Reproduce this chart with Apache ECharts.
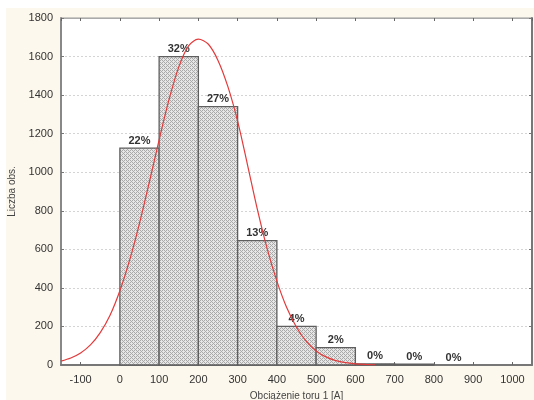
<!DOCTYPE html>
<html>
<head>
<meta charset="utf-8">
<script src="https://cdn.jsdelivr.net/npm/echarts@6/dist/echarts.min.js"></script>
<style>
html,body{margin:0;padding:0;background:#fff;}
#bg{position:absolute;left:6px;top:8px;width:528px;height:392px;background:#fcf8ed;}
#chart{position:absolute;left:0;top:0;width:534px;height:400px;}
</style>
</head>
<body>
<div id="bg"></div>
<div id="chart"></div>
<script>
// Histogram bins (lower edges), width 100 A
const binStarts = [0, 100, 200, 300, 400, 500, 600, 700, 800];
const binWidth = 100;
const counts = [1125, 1600, 1340, 645, 200, 90, 6, 5, 0];
const percentLabels = ['22%', '32%', '27%', '13%', '4%', '2%', '0%', '0%', '0%'];

// Fitted curve
const curveX = [-150, -125, -100, -75, -50, -25, 0, 25, 50, 75, 100, 125, 150, 175, 200, 225, 250, 275, 300, 325, 350, 375, 400, 425, 450, 475, 500, 525, 550, 575, 600, 625, 650];
const curveY = [20, 36, 62, 104, 168, 258, 385, 545, 735, 948, 1168, 1375, 1545, 1655, 1690, 1665, 1580, 1445, 1265, 1040, 810, 605, 435, 298, 196, 122, 73, 42, 23, 12, 6, 3, 1];

const xTickMin = -150, xTickMax = 1050;
const yMin = 0, yMax = 1800, yStep = 200;

function makePattern() {
  const c = document.createElement('canvas');
  c.width = 4; c.height = 4;
  const g = c.getContext('2d');
  g.fillStyle = '#e6e6e6';
  g.fillRect(0, 0, 4, 4);
  g.fillStyle = '#a9a9a9';
  for (let x = 0; x < 4; x++) {
    for (let y = 0; y < 4; y++) {
      if ((x + y) % 4 === 0 || ((x - y + 4) % 4) === 2) g.fillRect(x, y, 1, 1);
    }
  }
  return c;
}
const pattern = { image: makePattern(), repeat: 'repeat' };

const barData = binStarts.map((s, i) => [s, s + binWidth, counts[i], percentLabels[i]]);
const curveData = curveX.map((x, i) => [x, curveY[i]]);

const chart = echarts.init(document.getElementById('chart'), null, { renderer: 'canvas' });
const labelFont = 'Liberation Sans, Arial, sans-serif';

chart.setOption({
  animation: false,
  backgroundColor: 'transparent',
  grid: { left: 61, right: 2, top: 18, bottom: 35, show: true, backgroundColor: '#ffffff', borderColor: '#9a9a9a', borderWidth: 1, outerBoundsMode: 'none', containLabel: false },
  xAxis: [{
    type: 'value', min: xTickMin, max: xTickMax, splitNumber: 12,
    name: 'Obciążenie toru 1 [A]', nameLocation: 'middle', nameGap: 26,
    nameTextStyle: { fontFamily: labelFont, fontSize: 10, color: '#444' },
    axisLine: { show: true, onZero: false, lineStyle: { color: '#777', width: 2 } },
    axisTick: { show: true, inside: true, length: 3, lineStyle: { color: '#666' } },
    axisLabel: { fontFamily: labelFont, fontSize: 11, color: '#333', margin: 9, showMinLabel: false, showMaxLabel: false,
      formatter: v => (v === xTickMin || v === xTickMax) ? '' : String(v) },
    splitLine: { show: false }
  }, {
    type: 'value', position: 'top', min: xTickMin, max: xTickMax, splitNumber: 12,
    axisLine: { show: true, onZero: false, lineStyle: { color: '#aaa', width: 1 } },
    axisTick: { show: true, inside: true, length: 3, lineStyle: { color: '#666' } },
    axisLabel: { show: false }, splitLine: { show: false }
  }],
  yAxis: [{
    type: 'value', min: yMin, max: yMax, interval: yStep,
    name: 'Liczba obs.', nameLocation: 'middle', nameGap: 40,
    nameTextStyle: { fontFamily: labelFont, fontSize: 10, color: '#444' },
    axisLine: { show: true, onZero: false, lineStyle: { color: '#888', width: 2 } },
    axisTick: { show: true, inside: true, length: 3, lineStyle: { color: '#777' } },
    axisLabel: { fontFamily: labelFont, fontSize: 11, color: '#333', margin: 8, formatter: v => String(v) },
    splitLine: { show: true, lineStyle: { color: '#d4d4d4', type: [2, 2], width: 1 } }
  }, {
    type: 'value', position: 'right', min: yMin, max: yMax, interval: yStep,
    axisLine: { show: true, onZero: false, lineStyle: { color: '#777', width: 2 } },
    axisTick: { show: true, inside: true, length: 3, lineStyle: { color: '#777' } },
    axisLabel: { show: false }, splitLine: { show: false }
  }],
  series: [{
    type: 'custom',
    xAxisIndex: 0, yAxisIndex: 0,
    data: barData,
    encode: { x: [0, 1], y: 2 },
    z: 2,
    renderItem: function (params, api) {
      const x0 = api.value(0), x1 = api.value(1), v = api.value(2);
      const p0 = api.coord([x0, v]);
      const p1 = api.coord([x1, 0]);
      const children = [];
      if (v > 0) {
        children.push({
          type: 'rect',
          shape: { x: p0[0], y: p0[1], width: p1[0] - p0[0], height: p1[1] - p0[1] },
          style: { fill: pattern, stroke: '#5f5f5f', lineWidth: 1.3 }
        });
      }
      children.push({
        type: 'text',
        style: {
          text: barData[params.dataIndex][3],
          x: (p0[0] + p1[0]) / 2, y: p0[1] - 2,
          align: 'center', verticalAlign: 'bottom',
          fontFamily: labelFont, fontSize: 11, fontWeight: 'bold', fill: '#333'
        }
      });
      return { type: 'group', children: children };
    }
  }, {
    type: 'line',
    xAxisIndex: 0, yAxisIndex: 0,
    data: curveData,
    smooth: 0.3,
    showSymbol: false,
    z: 3,
    lineStyle: { color: '#e23b3b', width: 1.2 }
  }]
});
</script>
</body>
</html>
